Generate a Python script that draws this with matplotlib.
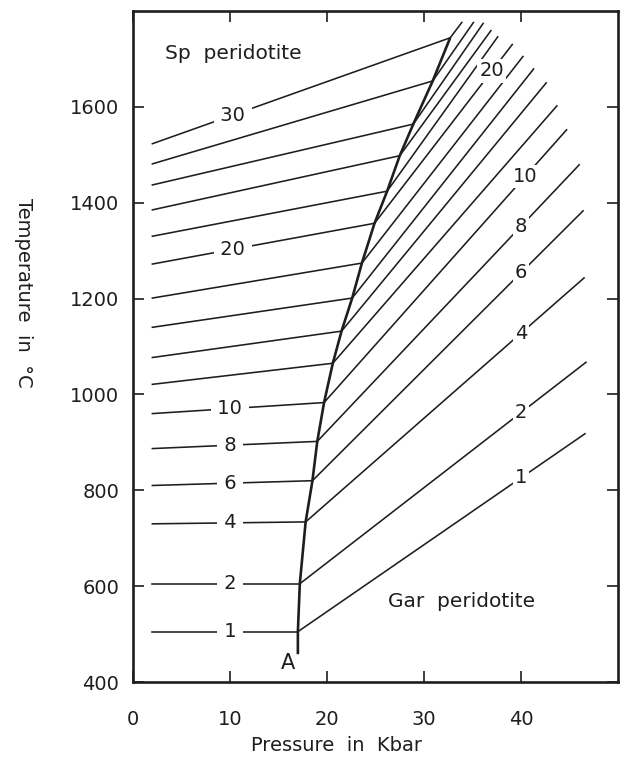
import numpy as np
import matplotlib
matplotlib.use('Agg')
import matplotlib.pyplot as plt

plt.rcParams['font.family'] = ['DejaVu Sans']

# isopleth values (same set on both sides of the boundary)
values = [1, 2, 4, 6, 8, 10, 12, 14, 16, 18, 20, 22, 24, 26, 28, 30]

# spinel side: start at P=2 kbar
sp_p0 = 2.0
sp_t0 = [505, 605, 730, 810, 887, 960, 1021, 1077, 1140, 1201,
         1272, 1330, 1385, 1437, 1481, 1523]

# boundary curve A (points where the isopleths meet)
bnd_p = [17.0, 17.2, 17.8, 18.5, 19.0, 19.7, 20.6, 21.5, 22.6, 23.6,
         24.9, 26.2, 27.5, 28.9, 30.9, 32.7]
bnd_t = [505, 605, 734, 820, 902, 983, 1065, 1132, 1201, 1274,
         1357, 1424, 1498, 1564, 1654, 1744]
bnd_base_t = 458   # lower end of curve, above the 'A'

# garnet side: end points
gar_p1 = [46.6, 46.7, 46.5, 46.4, 46.0, 44.7, 43.7, 42.6, 41.3, 40.2,
          39.1, 37.6, 36.9, 36.1, 35.1, 33.9]
gar_t1 = [918, 1067, 1243, 1383, 1479, 1552, 1602, 1650, 1679, 1705,
          1730, 1746, 1759, 1774, 1776, 1776]

sp_labels = [1, 2, 4, 6, 8, 10, 20, 30]
gar_labels = [1, 2, 4, 6, 8, 10, 20]

fig = plt.figure(figsize=(6.29, 7.61), dpi=100)
ax = fig.add_axes([0.2114, 0.1038, 0.7711, 0.8818])

ink = '#1e1e1e'
lw = 1.15
for i, v in enumerate(values):
    ax.plot([sp_p0, bnd_p[i]], [sp_t0[i], bnd_t[i]], color=ink, lw=lw, zorder=2)
    ax.plot([bnd_p[i], gar_p1[i]], [bnd_t[i], gar_t1[i]], color=ink, lw=lw, zorder=2)

# boundary
ax.plot([bnd_p[0]] + bnd_p, [bnd_base_t] + bnd_t, color=ink, lw=1.9, zorder=3,
        solid_capstyle='butt')

# labels on spinel side
for lab in sp_labels:
    i = values.index(lab)
    px = 10.0 if lab < 20 else 10.3
    t = np.interp(px, [sp_p0, bnd_p[i]], [sp_t0[i], bnd_t[i]])
    ax.text(px, t, ' %d ' % lab, ha='center', va='center', fontsize=14, zorder=4,
            color=ink, bbox=dict(facecolor='white', edgecolor='none', pad=0.5))

# labels on garnet side
for lab in gar_labels:
    i = values.index(lab)
    px = 40.0 if lab < 10 else (40.4 if lab == 10 else 37.0)
    t = np.interp(px, [bnd_p[i], gar_p1[i]], [bnd_t[i], gar_t1[i]])
    ax.text(px, t, '%d' % lab, ha='center', va='center', fontsize=14, zorder=4,
            color=ink, bbox=dict(facecolor='white', edgecolor='none', pad=1.5))

ax.text(3.3, 1712, 'Sp  peridotite', fontsize=14.5, ha='left', va='center', color=ink)
ax.text(26.3, 567, 'Gar  peridotite', fontsize=14.5, ha='left', va='center', color=ink)
ax.text(16.0, 440, 'A', fontsize=15, ha='center', va='center', color=ink)

ax.set_xlim(0, 50)
ax.set_ylim(400, 1800)
ax.set_xticks([0, 10, 20, 30, 40])
ax.set_yticks([400, 600, 800, 1000, 1200, 1400, 1600])
ax.tick_params(direction='in', length=8, width=1.2, top=True, right=True,
               labelsize=14, colors=ink)
ax.tick_params(axis='x', pad=20)
ax.tick_params(axis='y', pad=10)
for s in ax.spines.values():
    s.set_linewidth(1.9)
    s.set_color(ink)

ax.set_xlabel('Pressure  in  Kbar', fontsize=14, color=ink)
ax.xaxis.set_label_coords(0.42, -0.094)
ax.xaxis.label.set_va('center')
ax.set_ylabel('Temperature  in  °C', fontsize=14, rotation=270, color=ink)
ax.yaxis.set_label_coords(-0.225, 0.58)
ax.yaxis.label.set_va('center')

fig.savefig('out.png', dpi=100)
